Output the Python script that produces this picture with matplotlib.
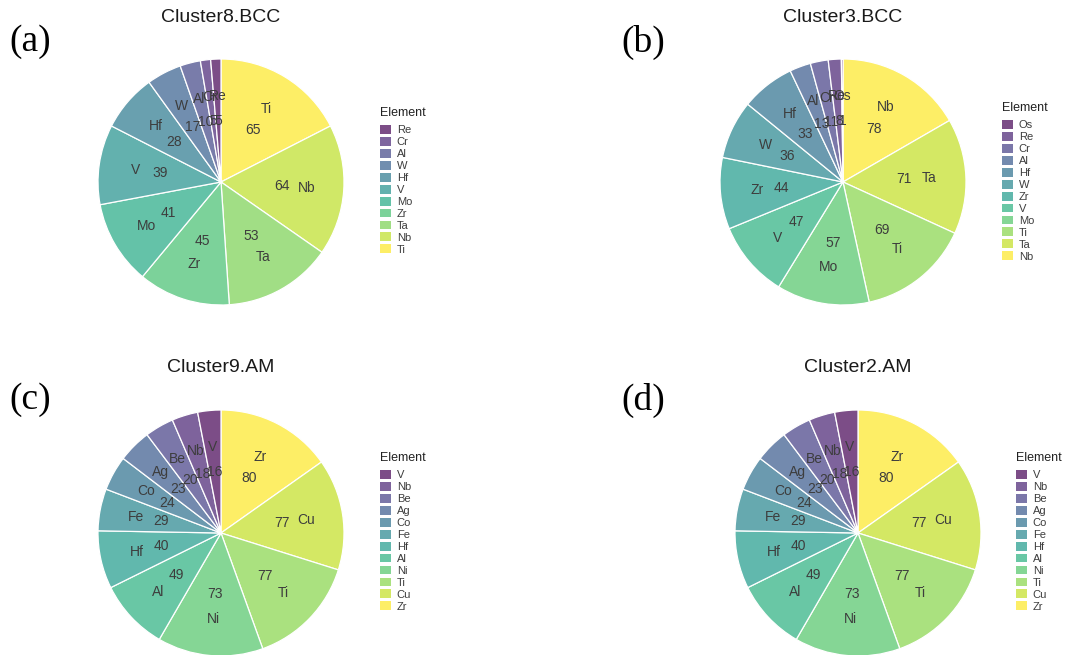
import numpy as np
import matplotlib
matplotlib.use("Agg")
import matplotlib.pyplot as plt
from matplotlib.patches import Patch

# element counts per cluster, largest first (clockwise from 12 o'clock)
a_elements = ["Ti", "Nb", "Ta", "Zr", "Mo", "V", "Hf", "W", "Al", "Cr", "Re"]
a_counts = [65, 64, 53, 45, 41, 39, 28, 17, 10, 5, 5]

b_elements = ["Nb", "Ta", "Ti", "Mo", "V", "Zr", "W", "Hf", "Al", "Cr", "Re", "Os"]
b_counts = [78, 71, 69, 57, 47, 44, 36, 33, 13, 11, 8, 1]

c_elements = ["Zr", "Cu", "Ti", "Ni", "Al", "Hf", "Fe", "Co", "Ag", "Be", "Nb", "V"]
c_counts = [80, 77, 77, 73, 49, 40, 29, 24, 23, 20, 18, 16]

d_elements = ["Zr", "Cu", "Ti", "Ni", "Al", "Hf", "Fe", "Co", "Ag", "Be", "Nb", "V"]
d_counts = [80, 77, 77, 73, 49, 40, 29, 24, 23, 20, 18, 16]

titles = ["Cluster8.BCC", "Cluster3.BCC", "Cluster9.AM", "Cluster2.AM"]
tags = ["(a)", "(b)", "(c)", "(d)"]

W, H = 1070, 655
R = 123  # pie radius in pixels
TXT = "#3d3d3d"
SANS = "Liberation Sans"


def fx(x):
    return x / W


def fy(y):
    return 1 - y / H


def draw_pie(fig, elements, counts, cx, cy, legx, legy, title, titley, tag, tagx, tagy):
    side = 2.5 * R
    ax = fig.add_axes([fx(cx - side / 2), fy(cy + side / 2), side / W, side / H])
    n = len(elements)
    # viridis with alpha 0.7; smallest element gets the dark end
    cols = plt.cm.viridis(np.linspace(0, 1, n))[::-1]
    cols[:, 3] = 0.7
    wedges, _ = ax.pie(counts, colors=cols, startangle=90, counterclock=False,
                       wedgeprops=dict(edgecolor="white", linewidth=0.9))
    ax.set_xlim(-1.25, 1.25)
    ax.set_ylim(-1.25, 1.25)
    ax.set_aspect("equal")

    for w, el, v in zip(wedges, elements, counts):
        mid = np.deg2rad((w.theta1 + w.theta2) / 2)
        ax.text(0.70 * np.cos(mid), 0.70 * np.sin(mid), el, ha="center", va="center",
                fontsize=10, color=TXT, family=SANS)
        ax.text(0.50 * np.cos(mid), 0.50 * np.sin(mid), str(v), ha="center", va="center",
                fontsize=10, color=TXT, family=SANS)

    # legend: title as plain text, keys listed smallest first
    fig.text(fx(legx), fy(legy), "Element", ha="left", va="center",
             fontsize=9, family=SANS, color="#222222")
    handles = [Patch(facecolor=cols[i], edgecolor="none", label=elements[i])
               for i in range(n - 1, -1, -1)]
    leg = fig.legend(handles=handles, loc="upper left",
                     bbox_to_anchor=(fx(legx), fy(legy + 12)), frameon=False,
                     prop=dict(family=SANS, size=8),
                     handlelength=0.95, handleheight=0.85, handletextpad=0.55,
                     labelspacing=0.15, borderpad=0, borderaxespad=0)
    for t in leg.get_texts():
        t.set_color(TXT)

    fig.text(fx(cx), fy(titley), title, ha="center", va="center",
             fontsize=14, family=SANS, color="#1a1a1a")
    fig.text(fx(tagx), fy(tagy), tag, ha="left", va="center", fontsize=27,
             family="Liberation Serif", color="black")


fig = plt.figure(figsize=(W / 100, H / 100), dpi=100)
fig.patch.set_facecolor("white")

draw_pie(fig, a_elements, a_counts, 221, 182, 380, 113, titles[0], 18, tags[0], 9, 42)
draw_pie(fig, b_elements, b_counts, 843, 182, 1002, 108, titles[1], 18, tags[1], 621, 42)
draw_pie(fig, c_elements, c_counts, 221, 533, 380, 458, titles[2], 368, tags[2], 9, 400)
draw_pie(fig, d_elements, d_counts, 858, 533, 1016, 458, titles[3], 368, tags[3], 621, 400)

fig.savefig("out.png", dpi=100)
